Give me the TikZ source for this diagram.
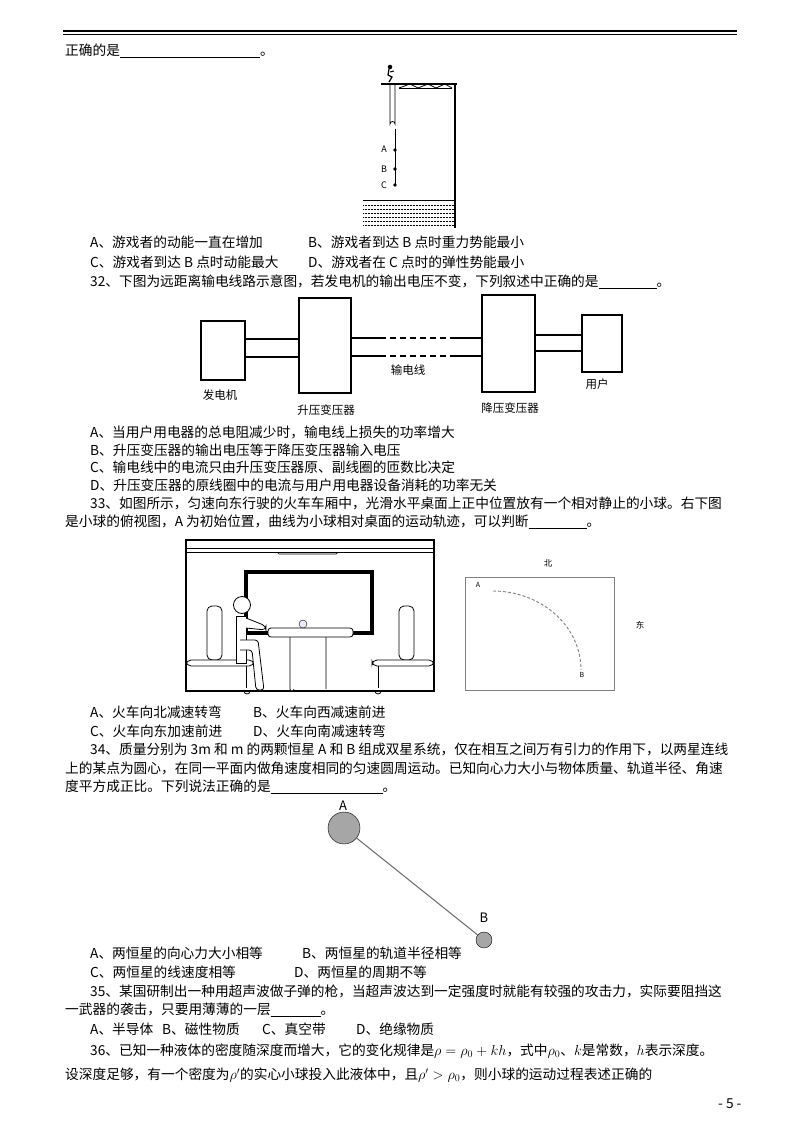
\documentclass[tikz,border=0pt]{standalone}
\usepackage{fontspec}
\setmainfont{Noto Sans CJK SC}
\newfontfamily\cjk{Noto Sans CJK SC}
\usetikzlibrary{decorations.pathmorphing}
\newcommand{\blk}[1]{\rule[-2pt]{#1pt}{0.5pt}}
\tikzset{
  ln/.style={anchor=west,inner sep=0pt,font=\fontsize{13.7}{15}\selectfont},
  lab/.style={inner sep=0pt,font=\fontsize{11.5}{13}\selectfont},
  box/.style={draw,line width=2pt},
  wire/.style={line width=2pt},
  soft/.style={draw,line width=0.8pt,rounded corners=5pt,fill=white}
}
\begin{document}
\begin{tikzpicture}[x=1pt,y=-1pt]
\useasboundingbox (0,0) rectangle (800,1132);
\fill[white] (0,0) rectangle (800,1132);
% header
\draw[line width=1.2pt] (63,31) -- (737,31);
\draw[line width=0.5pt] (63,34.5) -- (737,34.5);
% text lines
\node[ln] (t1) at (65,51) {正确的是\blk{140}。};
\node[ln] (t2) at (90,242) {A、游戏者的动能一直在增加};
\node[ln] (t3) at (308,242) {B、游戏者到达 B 点时重力势能最小};
\node[ln] (t4) at (90,262) {C、游戏者到达 B 点时动能最大};
\node[ln] (t5) at (308,262) {D、游戏者在 C 点时的弹性势能最小};
\node[ln] (t6) at (90,282) {32、下图为远距离输电线路示意图，若发电机的输出电压不变，下列叙述中正确的是\blk{58}。};
\node[ln] (t7) at (90,432) {A、当用户用电器的总电阻减少时，输电线上损失的功率增大};
\node[ln] (t8) at (90,450) {B、升压变压器的输出电压等于降压变压器输入电压};
\node[ln] (t9) at (90,467) {C、输电线中的电流只由升压变压器原、副线圈的匝数比决定};
\node[ln] (t10) at (90,485) {D、升压变压器的原线圈中的电流与用户用电器设备消耗的功率无关};
\node[ln] (t11) at (90,503) {33、如图所示，匀速向东行驶的火车车厢中，光滑水平桌面上正中位置放有一个相对静止的小球。右下图};
\node[ln] (t12) at (65,522) {是小球的俯视图，A 为初始位置，曲线为小球相对桌面的运动轨迹，可以判断\blk{58}。};
\node[ln] (t13) at (90,712) {A、火车向北减速转弯};
\node[ln] (t14) at (253,712) {B、火车向西减速前进};
\node[ln] (t15) at (90,731) {C、火车向东加速前进};
\node[ln] (t16) at (253,731) {D、火车向南减速转弯};
\node[ln] (t17) at (90,749) {34、质量分别为 3m 和 m 的两颗恒星 A 和 B 组成双星系统，仅在相互之间万有引力的作用下，以两星连线};
\node[ln] (t18) at (65,768) {上的某点为圆心，在同一平面内做角速度相同的匀速圆周运动。已知向心力大小与物体质量、轨道半径、角速};
\node[ln] (t19) at (65,787) {度平方成正比。下列说法正确的是\blk{112}。};
\node[ln] (t20) at (90,953) {A、两恒星的向心力大小相等};
\node[ln] (t21) at (302,953) {B、两恒星的轨道半径相等};
\node[ln] (t22) at (90,972) {C、两恒星的线速度相等};
\node[ln] (t23) at (294,972) {D、两恒星的周期不等};
\node[ln] (t24) at (90,991) {35、某国研制出一种用超声波做子弹的枪，当超声波达到一定强度时就能有较强的攻击力，实际要阻挡这};
\node[ln] (t25) at (65,1010) {一武器的袭击，只要用薄薄的一层\blk{50}。};
\node[ln] (t26) at (90,1029) {A、半导体};
\node[ln] (t27) at (162,1029) {B、磁性物质};
\node[ln] (t28) at (262,1029) {C、真空带};
\node[ln] (t29) at (356,1029) {D、绝缘物质};
\node[ln] (t30) at (90,1051) {36、已知一种液体的密度随深度而增大，它的变化规律是$\rho=\rho_0+kh$，式中$\rho_0$、$k$是常数，$h$表示深度。};
\node[ln] (t31) at (65,1075) {设深度足够，有一个密度为$\rho'$的实心小球投入此液体中，且$\rho'>\rho_0$，则小球的运动过程表述正确的};
\node[ln] (pg) at (718,1104) {- 5 -};

% ---- bungee figure
\draw[line width=2.2pt] (455,84) -- (455,228);
\draw[line width=1.6pt] (381,84) -- (457,84);
\draw[line width=0.8pt] (399,88) -- (452,88);
\draw[line width=0.8pt] (399,88) -- (410,84) -- (418,88) -- (428,84) -- (436,88) -- (445,84) -- (452,88);
\draw[line width=0.6pt] (363,200) -- (454,200);
\foreach \yy in {205,209,213,217,221,225}
  \draw[densely dotted,line width=0.5pt] (363,\yy) -- (454,\yy);
\draw[line width=0.8pt] (390,85) -- (390,124) arc (180:360:2.5) -- (395,85);
\draw[line width=0.7pt] (395,129) -- (395,186);
\node[circle,fill,inner sep=1.4pt] (pA) at (395,150) {};
\node[circle,fill,inner sep=1.4pt] (pB) at (395,169) {};
\node[circle,fill,inner sep=1.4pt] (pC) at (395,185) {};
\node[lab,font=\fontsize{9}{10}\selectfont] (lA) at (384,149) {A};
\node[lab,font=\fontsize{9}{10}\selectfont] (lB) at (384,169) {B};
\node[lab,font=\fontsize{9}{10}\selectfont] (lC) at (384,185) {C};
% jumper
\node[circle,fill,inner sep=1.6pt] (hd) at (390,67) {};
\draw[line width=1.2pt] (389,69) -- (388,75) -- (392,77) -- (389,82);
\draw[line width=1pt] (390,72) -- (394,71);

% ---- transmission
\node[box,minimum width=44pt,minimum height=59pt] (gen) at (223,350) {};
\node[box,minimum width=52pt,minimum height=95pt] (up) at (325,345) {};
\node[box,minimum width=53pt,minimum height=97pt] (down) at (508,343) {};
\node[box,minimum width=40pt,minimum height=57pt] (usr) at (602,343) {};
\draw[wire] (gen.east |- 0,339) -- (up.west |- 0,339);
\draw[wire] (gen.east |- 0,357) -- (up.west |- 0,357);
\draw[wire] (usr.west |- 0,335) -- (down.east |- 0,335);
\draw[wire] (usr.west |- 0,351) -- (down.east |- 0,351);
\draw[wire] (up.east |- 0,338) -- (380,338);
\draw[wire,dash pattern=on 6pt off 4pt] (380,338) -- (452,338);
\draw[wire] (452,338) -- (down.west |- 0,338);
\draw[line width=1.5pt] (up.east |- 0,356) -- (380,356);
\draw[line width=1.5pt,dash pattern=on 6pt off 4pt] (380,356) -- (452,356);
\draw[line width=1.5pt] (452,356) -- (down.west |- 0,356);
\node[lab] (lg) at (220,395) {发电机};
\node[lab] (lu) at (326,410) {升压变压器};
\node[lab] (lw) at (408,370) {输电线};
\node[lab] (ld) at (510,408) {降压变压器};
\node[lab] (lus) at (597,384) {用户};

% ---- train
\draw[line width=2pt] (186,540) rectangle (434,691);
\draw[line width=0.7pt] (186,548) -- (434,548);
\draw[line width=0.7pt] (186,552) -- (434,552);
\draw[line width=0.7pt] (277,552) -- (279,554) -- (336,554) -- (338,552);
\draw[line width=4pt] (246,572) rectangle (372,633);
% seats
\draw[soft] (207,606) rectangle (222,660);
\draw[soft] (186,660) rectangle (254,666);
\draw[line width=0.8pt] (246,666) -- (246,688);
\draw[line width=0.8pt] (244,691) arc (180:0:3);
\draw[soft] (399,606) rectangle (414,660);
\draw[soft] (372,660) rectangle (434,666);
\draw[line width=0.8pt] (378,666) -- (378,688);
\draw[line width=0.8pt] (375,691) arc (180:0:3);
% table
\draw[line width=0.8pt,fill=white] (290,634) -- (290,689) arc (180:0:2) (326,634) -- (326,689);
\draw[line width=0.8pt] (292,691) -- (324,691);
\draw[line width=0.8pt,fill=white,rounded corners=3pt] (268,628) rectangle (353,637);
\node[circle,draw,fill=blue!8,inner sep=0pt,minimum size=8pt] (ball) at (303,624) {};
% person
\draw[line width=0.8pt,fill=white] (236,616) rectangle (246,663);
\draw[line width=0.8pt,fill=white,rounded corners=4pt] (246,618) -- (266,626) -- (266,630) -- (246,628);
\draw[line width=0.8pt,fill=white,rounded corners=3pt] (240,640) -- (258,640) -- (264,690) -- (256,690) -- (252,650) -- (240,650);
\node[circle,draw,line width=0.8pt,fill=white,minimum size=17pt,inner sep=0pt] (head) at (242,605) {};

% ---- top view
\draw[gray,line width=0.8pt] (465,577) rectangle (614,690);
\node[lab,font=\fontsize{8.5}{9}\selectfont] (north) at (548,563) {北};
\node[lab,font=\fontsize{8.5}{9}\selectfont] (east) at (640,625) {东};
\node[lab,font=\fontsize{7}{8}\selectfont] (la) at (478,585) {A};
\node[lab,font=\fontsize{7}{8}\selectfont] (lb) at (582,675) {B};
\coordinate (sa) at (493,591);
\coordinate (sb) at (581,670);
\draw[gray,densely dashed,line width=0.9pt] (sa) .. controls (540,591) and (581,625) .. (sb);

% ---- binary stars
\node[circle,draw,fill=gray!70,minimum size=32pt,inner sep=0pt] (sA) at (344,828) {};
\node[circle,draw,fill=gray!70,minimum size=16pt,inner sep=0pt] (sB) at (484,940) {};
\draw[gray!80!black,line width=1pt] (sA) -- (sB);
\node[lab,font=\fontsize{13}{14}\selectfont] (nA) at (343,806) {A};
\node[lab,font=\fontsize{13}{14}\selectfont] (nB) at (484,918) {B};
\end{tikzpicture}
\end{document}
